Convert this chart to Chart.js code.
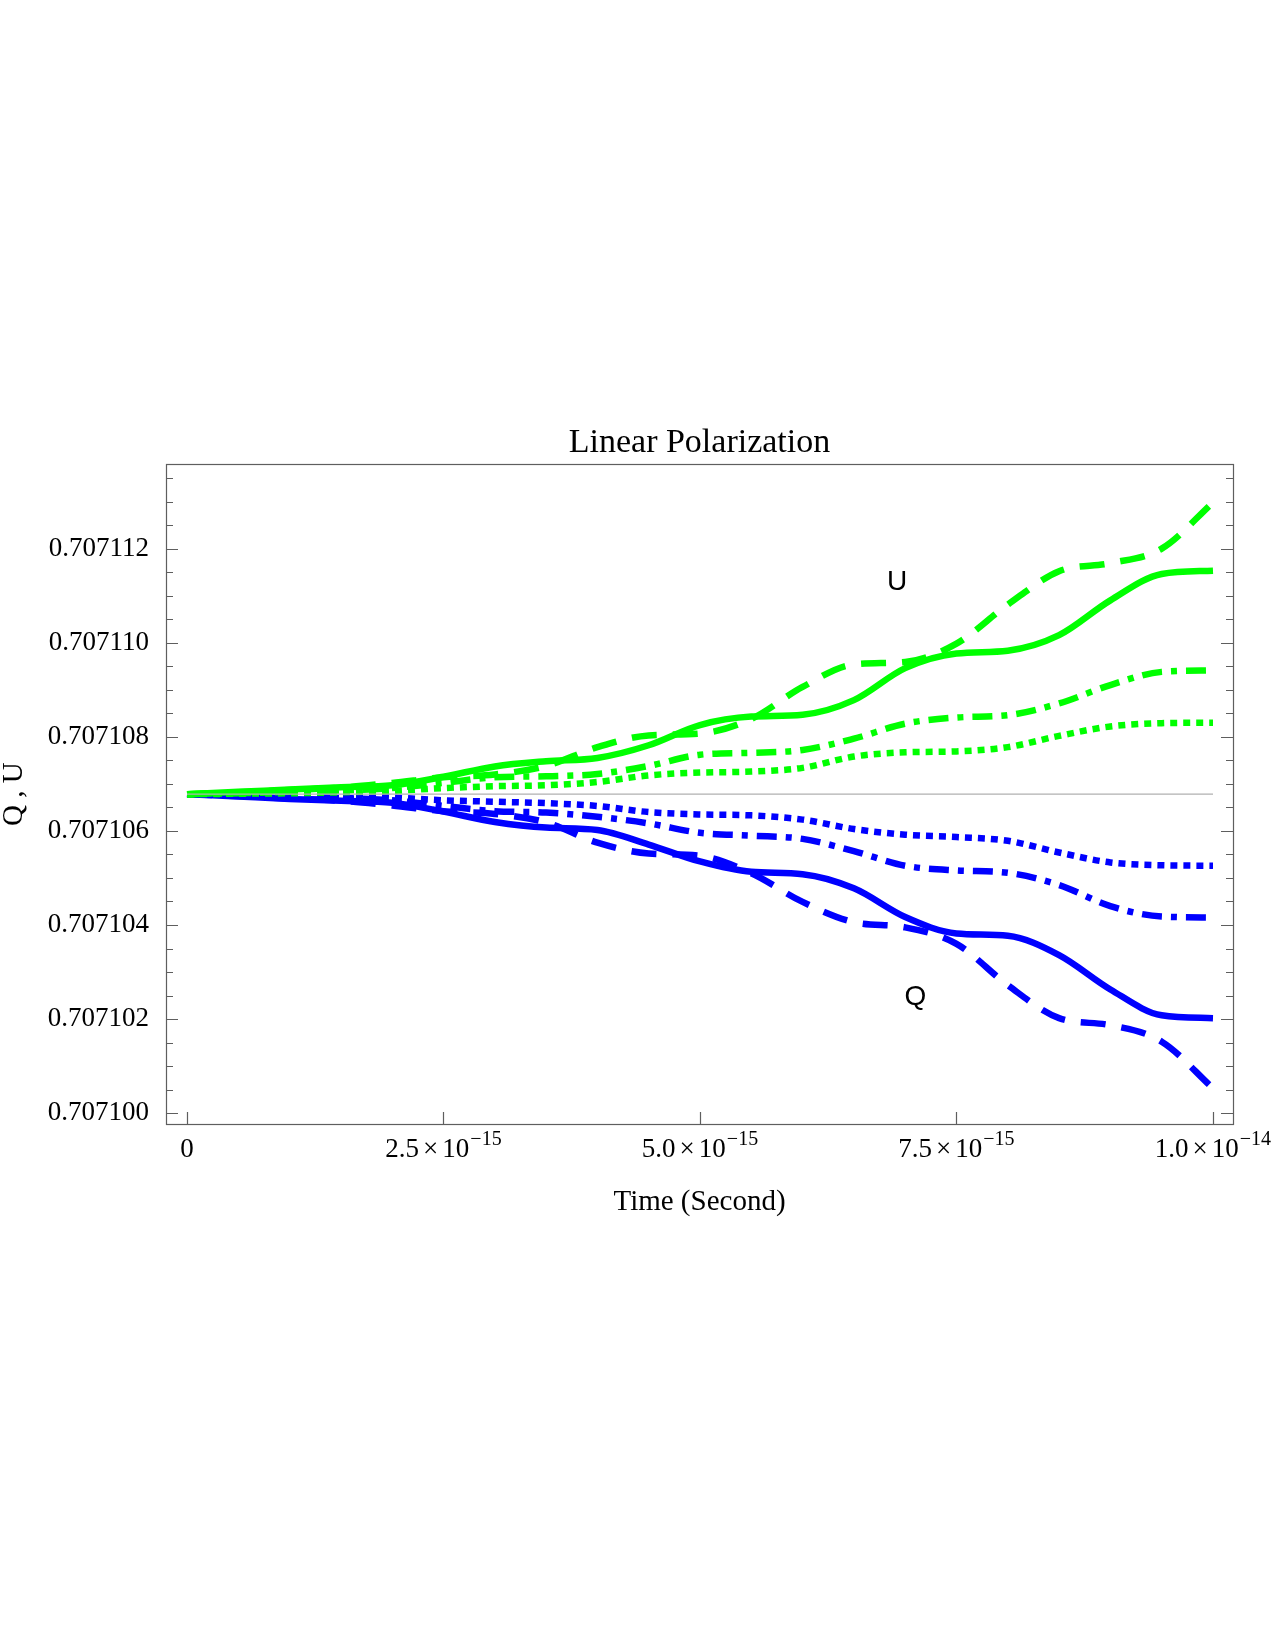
<!DOCTYPE html>
<html><head><meta charset="utf-8">
<script src="https://cdn.jsdelivr.net/npm/chart.js@4.4.1/dist/chart.umd.min.js"></script>
<style>html,body{margin:0;padding:0;background:#fff;}#wrap{width:1275px;height:1650px;position:relative;}</style>
</head><body><div id="wrap"><canvas id="c" width="1275" height="1650"></canvas></div>
<script>
const SERIF = "'Liberation Serif','Times New Roman',serif";
const SANS = "'Liberation Sans',Arial,sans-serif";

const times = [0, 0.5e-15, 1.0e-15, 1.5e-15, 2.0e-15, 2.5e-15, 3.0e-15, 3.5e-15, 4.0e-15, 4.5e-15, 5.0e-15,
               5.5e-15, 6.0e-15, 6.5e-15, 7.0e-15, 7.5e-15, 8.0e-15, 8.5e-15, 9.0e-15, 9.5e-15, 1.0e-14];

const uSolid   = [0.70710678, 0.70710683, 0.70710688, 0.70710693, 0.70710697, 0.70710715, 0.70710737, 0.70710748, 0.70710755, 0.70710782, 0.70710825,
                  0.70710843, 0.70710847, 0.70710878, 0.70710946, 0.70710977, 0.70710983, 0.70711016, 0.70711090, 0.70711146, 0.70711153];
const uDashed  = [0.70710678, 0.70710682, 0.70710687, 0.70710692, 0.70710702, 0.70710714, 0.70710720, 0.70710738, 0.70710778, 0.70710803, 0.70710807,
                  0.70710838, 0.70710906, 0.70710954, 0.70710959, 0.70710998, 0.70711081, 0.70711152, 0.70711169, 0.70711200, 0.70711298];
const uDotDash = [0.70710678, 0.70710680, 0.70710683, 0.70710686, 0.70710691, 0.70710702, 0.70710714, 0.70710716, 0.70710721, 0.70710738, 0.70710762,
                  0.70710766, 0.70710772, 0.70710796, 0.70710828, 0.70710841, 0.70710846, 0.70710871, 0.70710910, 0.70710938, 0.70710941];
const uDotted  = [0.70710678, 0.70710679, 0.70710680, 0.70710682, 0.70710685, 0.70710691, 0.70710695, 0.70710697, 0.70710704, 0.70710718, 0.70710724,
                  0.70710726, 0.70710734, 0.70710758, 0.70710767, 0.70710769, 0.70710778, 0.70710802, 0.70710822, 0.70710829, 0.70710830];

const qSolid   = [0.70710678, 0.70710673, 0.70710668, 0.70710664, 0.70710660, 0.70710641, 0.70710619, 0.70710607, 0.70710602, 0.70710571, 0.70710535,
                  0.70710513, 0.70710508, 0.70710478, 0.70710417, 0.70710382, 0.70710377, 0.70710336, 0.70710263, 0.70710208, 0.70710202];
const qDashed  = [0.70710678, 0.70710674, 0.70710669, 0.70710664, 0.70710654, 0.70710642, 0.70710636, 0.70710618, 0.70710575, 0.70710552, 0.70710547,
                  0.70710510, 0.70710449, 0.70710406, 0.70710395, 0.70710360, 0.70710272, 0.70710202, 0.70710187, 0.70710152, 0.70710053];
const qDotDash = [0.70710678, 0.70710676, 0.70710673, 0.70710670, 0.70710665, 0.70710653, 0.70710642, 0.70710639, 0.70710630, 0.70710616, 0.70710596,
                  0.70710590, 0.70710583, 0.70710557, 0.70710526, 0.70710516, 0.70710511, 0.70710485, 0.70710440, 0.70710418, 0.70710416];
const qDotted  = [0.70710678, 0.70710677, 0.70710676, 0.70710674, 0.70710671, 0.70710665, 0.70710662, 0.70710659, 0.70710653, 0.70710640, 0.70710635,
                  0.70710633, 0.70710624, 0.70710604, 0.70710592, 0.70710587, 0.70710579, 0.70710554, 0.70710533, 0.70710527, 0.70710526];

const initialValue = 0.70710678;
const referenceLine = [[0, initialValue], [1.0e-14, initialValue]];

const yMajorTicks = [0.707100, 0.707102, 0.707104, 0.707106, 0.707108, 0.707110, 0.707112];
const yMinorTicks = [0.7071005, 0.7071010, 0.7071015, 0.7071025, 0.7071030, 0.7071035, 0.7071045, 0.7071050, 0.7071055,
                     0.7071065, 0.7071070, 0.7071075, 0.7071085, 0.7071090, 0.7071095, 0.7071105, 0.7071110, 0.7071115,
                     0.7071125, 0.7071130, 0.7071135];
const xTickValues   = [0, 2.5e-15, 5.0e-15, 7.5e-15, 1.0e-14];
const xTickMantissa = ['0', '2.5', '5.0', '7.5', '1.0'];
const xTickExponent = ['', '\u221215', '\u221215', '\u221215', '\u221214'];

const curveLabels = [
  {text: 'U', x: 6.92e-15, y: 0.70711128},
  {text: 'Q', x: 7.10e-15, y: 0.70710247}
];

const GREEN = '#00ff00', BLUE = '#0000ff';
const DASH = [25, 16], DOTDASH = [20, 9, 6, 9], DOT = [7, 6];

function series(vals, color, dash) {
  return {
    data: times.map((t, i) => ({x: t, y: vals[i]})),
    borderColor: color, borderWidth: 6.5, borderDash: dash, borderCapStyle: 'butt', borderJoinStyle: 'round',
    pointRadius: 0, cubicInterpolationMode: 'monotone', fill: false
  };
}

const framePlugin = {
  id: 'frame',
  afterDraw(chart) {
    const {ctx, chartArea, scales} = chart;
    const {left, right, top, bottom} = chartArea;
    const x = scales.x, y = scales.y;
    ctx.save();
    ctx.strokeStyle = '#5e5e5e';
    ctx.lineWidth = 1.2;
    ctx.strokeRect(Math.round(left) + 0.5, Math.round(top) + 0.5, Math.round(right - left), Math.round(bottom - top));
    ctx.beginPath();
    const tick = (vals, len) => {
      vals.forEach(v => {
        const py = Math.round(y.getPixelForValue(v)) + 0.5;
        ctx.moveTo(left, py); ctx.lineTo(left + len, py);
        ctx.moveTo(right, py); ctx.lineTo(right - len, py);
      });
    };
    tick(yMajorTicks, 12);
    tick(yMinorTicks, 7);
    xTickValues.forEach(v => {
      const px = Math.round(x.getPixelForValue(v)) + 0.5;
      ctx.moveTo(px, bottom); ctx.lineTo(px, bottom - 12);
    });
    ctx.stroke();

    // x tick labels with superscript exponents
    ctx.fillStyle = '#000';
    ctx.textBaseline = 'alphabetic';
    ctx.textAlign = 'left';
    const mainFont = '27px ' + SERIF, supFont = '20px ' + SERIF;
    const baseY = bottom + 33;
    xTickValues.forEach((v, i) => {
      const cx = x.getPixelForValue(v);
      const pieces = [];
      if (xTickExponent[i] === '') {
        pieces.push({t: xTickMantissa[i], f: mainFont, dy: 0, gap: 0});
      } else {
        pieces.push({t: xTickMantissa[i], f: mainFont, dy: 0, gap: 4});
        pieces.push({t: '\u00d7', f: mainFont, dy: 0, gap: 4});
        pieces.push({t: '10', f: mainFont, dy: 0, gap: 1});
        pieces.push({t: xTickExponent[i], f: supFont, dy: -12, gap: 0});
      }
      let total = 0;
      pieces.forEach(p => { ctx.font = p.f; p.w = ctx.measureText(p.t).width; total += p.w + p.gap; });
      let px = cx - total / 2;
      pieces.forEach(p => { ctx.font = p.f; ctx.fillText(p.t, px, baseY + p.dy); px += p.w + p.gap; });
    });

    // curve labels
    ctx.font = '28px ' + SANS;
    ctx.textAlign = 'center';
    ctx.textBaseline = 'middle';
    curveLabels.forEach(l => {
      ctx.fillText(l.text, x.getPixelForValue(l.x), y.getPixelForValue(l.y));
    });
    ctx.restore();
  }
};

new Chart(document.getElementById('c'), {
  type: 'line',
  data: {
    datasets: [
      {data: referenceLine.map(p => ({x: p[0], y: p[1]})), borderColor: '#b0b0b0', borderWidth: 1.2, pointRadius: 0, fill: false},
      series(uSolid, GREEN, []),
      series(uDashed, GREEN, DASH),
      series(uDotDash, GREEN, DOTDASH),
      series(uDotted, GREEN, DOT),
      series(qSolid, BLUE, []),
      series(qDashed, BLUE, DASH),
      series(qDotDash, BLUE, DOTDASH),
      series(qDotted, BLUE, DOT)
    ]
  },
  options: {
    responsive: false,
    animation: false,
    devicePixelRatio: 1,
    layout: {padding: {left: 0, right: 42, top: 423, bottom: 430.6}},
    plugins: {
      legend: {display: false},
      tooltip: {enabled: false},
      title: {
        display: true, text: 'Linear Polarization', fullSize: false, color: '#000',
        font: {family: SERIF, size: 34, weight: 'normal', lineHeight: 1.2},
        padding: {top: 0, bottom: 0.6}
      }
    },
    scales: {
      x: {
        type: 'linear', min: -2.047e-16, max: 1.0195e-14,
        grid: {display: false, drawTicks: false},
        border: {display: false},
        ticks: {display: false},
        title: {display: true, text: 'Time (Second)', color: '#000', font: {family: SERIF, size: 29, lineHeight: 1.2}, padding: 0},
        afterFit: s => { s.height = 95.4; }
      },
      y: {
        type: 'linear', min: 0.70709977, max: 0.70711379,
        grid: {display: false, drawTicks: false},
        border: {display: false},
        afterBuildTicks: s => { s.ticks = yMajorTicks.map(v => ({value: v})); },
        ticks: {
          color: '#000', padding: 17, autoSkip: false,
          font: {family: SERIF, size: 27},
          callback: v => Number(v).toFixed(6)
        },
        title: {display: true, text: 'Q , U', color: '#000', font: {family: SERIF, size: 29, lineHeight: 1.0}, padding: 0},
        afterFit: s => { s.width = 166; }
      }
    }
  },
  plugins: [framePlugin]
});
</script></body></html>
